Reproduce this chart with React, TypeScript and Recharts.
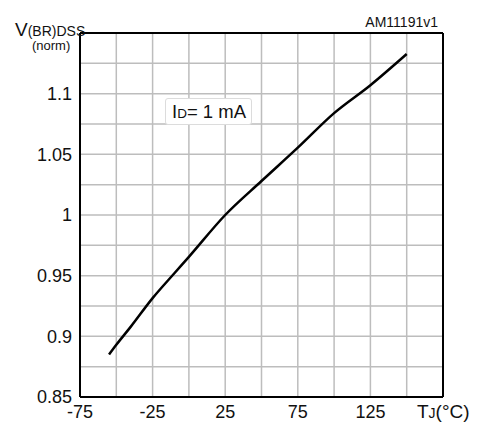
import { LineChart, Line, XAxis, YAxis, CartesianGrid, ReferenceLine } from "recharts";

const temps = [-55, -50, -40, -25, -10, 0, 25, 50, 75, 100, 125, 150];
const vNorm = [0.885, 0.893, 0.908, 0.9315, 0.952, 0.9655, 1.0, 1.028, 1.0555, 1.084, 1.107, 1.1327];

const xTicks = [-75, -50, -25, 0, 25, 50, 75, 100, 125, 150, 175];
const xLabels = [-75, -25, 25, 75, 125];
const yTicks = [0.85, 0.875, 0.9, 0.925, 0.95, 0.975, 1, 1.025, 1.05, 1.075, 1.1, 1.125, 1.15];
const yLabels = ["0.85", "0.9", "0.95", "1", "1.05", "1.1"];

const data = temps.map((t, i) => ({ t, v: vNorm[i] }));

const font = "'Liberation Sans', Arial, sans-serif";
const tickStyle = { fill: "#111", fontSize: 18, fontFamily: font };

export default function App() {
  return (
    <div style={{ position: "absolute", left: 0, top: 0, width: 478, height: 426, background: "#fff", fontFamily: font, color: "#111" }}>
      <LineChart width={478} height={426} data={data} margin={{ top: 33, right: 35, bottom: 0, left: 20 }}>
        <CartesianGrid stroke="#bdbdbd" strokeWidth={1.5} />
        <XAxis
          type="number"
          dataKey="t"
          domain={[-75, 175]}
          ticks={xTicks}
          interval={0}
          height={29}
          tickLine={false}
          axisLine={{ stroke: "#000", strokeWidth: 2 }}
          tick={tickStyle}
          tickFormatter={(v: number) => (xLabels.includes(v) ? String(v) : "")}
        />
        <YAxis
          type="number"
          domain={[0.85, 1.15]}
          ticks={yTicks}
          interval={0}
          width={60}
          tickLine={false}
          axisLine={{ stroke: "#000", strokeWidth: 2 }}
          tick={tickStyle}
          tickFormatter={(v: number) => {
            const s = String(Math.round(v * 1000) / 1000);
            return yLabels.includes(s) ? s : "";
          }}
        />
        <ReferenceLine y={1.15} stroke="#000" strokeWidth={2} />
        <ReferenceLine x={175} stroke="#000" strokeWidth={2} />
        <Line type="monotone" dataKey="v" stroke="#000" strokeWidth={2.5} dot={false} isAnimationActive={false} />
      </LineChart>

      <div style={{ position: "absolute", left: 15, top: 20, fontSize: 19, lineHeight: "19px", whiteSpace: "nowrap" }}>
        V<span style={{ fontSize: 14 }}>(BR)DSS</span>
      </div>
      <div style={{ position: "absolute", left: 32, top: 40, fontSize: 13, lineHeight: "12px" }}>(norm)</div>

      <div style={{ position: "absolute", right: 40, top: 15, fontSize: 14, lineHeight: "14px" }}>AM11191v1</div>

      <div style={{ position: "absolute", left: 417, top: 402, fontSize: 19, lineHeight: "19px", whiteSpace: "nowrap" }}>
        T<span style={{ fontSize: 14 }}>J</span>(°C)
      </div>

      <div
        style={{
          position: "absolute",
          left: 165,
          top: 98,
          width: 87,
          height: 27,
          background: "#fff",
          border: "1px solid #dcdcdc",
          borderRadius: 3,
          boxSizing: "border-box",
          fontSize: 18.5,
          lineHeight: "25px",
          paddingLeft: 6,
          whiteSpace: "nowrap",
        }}
      >
        I<span style={{ fontSize: 13.5 }}>D</span>= 1 mA
      </div>
    </div>
  );
}
